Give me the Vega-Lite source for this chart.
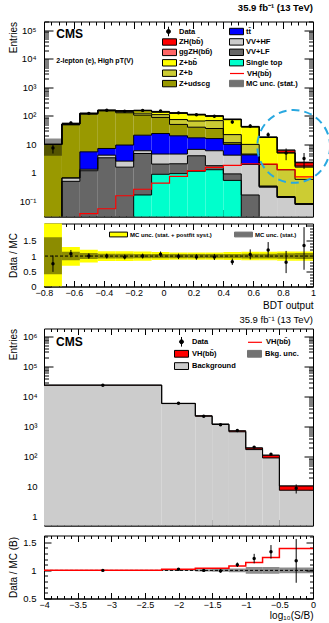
{
"$schema": "https://vega.github.io/schema/vega-lite/v6.json",
"padding": {"left": 7, "top": 2.5, "right": 0, "bottom": 0},
"background": "white",
"spacing": 1,
"config": {
  "font": "Liberation Sans",
  "view": {"stroke": "black", "strokeWidth": 1},
  "axis": {"grid": false, "domainColor": "black", "domainWidth": 1, "tickColor": "black", "tickWidth": 1, "labelColor": "black", "titleColor": "black", "labelFont": "Liberation Sans", "titleFont": "Liberation Sans", "labelFontSize": 9.5, "titleFontSize": 10, "titleFontWeight": "normal", "labelOverlap": false, "labelFlush": false, "labelBound": false},
  "legend": {"labelFont": "Liberation Sans", "labelFontWeight": "bold", "labelFontSize": 7.5, "labelColor": "black", "padding": 0, "rowPadding": -0.6, "labelOffset": 5, "symbolSize": 64, "titlePadding": 0, "offset": 0},
  "title": {"font": "Liberation Sans", "color": "black", "subtitleFont": "Liberation Sans", "subtitleColor": "black", "frame": "group"}
},
"datasets": {
  "stack": [
    {"b":1,"lo":-0.8,"hi":-0.68,"g":"A","c":"ZH(bb\u0304)","bot":10,"top":10},
    {"b":1,"lo":-0.8,"hi":-0.68,"g":"A","c":"ggZH(bb\u0304)","bot":10,"top":10},
    {"b":1,"lo":-0.8,"hi":-0.68,"g":"A","c":"Z+bb\u0304","bot":10,"top":10},
    {"b":1,"lo":-0.8,"hi":-0.68,"g":"A","c":"Z+b","bot":10,"top":10},
    {"b":1,"lo":-0.8,"hi":-0.68,"g":"A","c":"Z+udscg","bot":0.001,"top":10},
    {"b":1,"lo":-0.8,"hi":-0.68,"g":"B","c":"tt\u0304","bot":0.001,"top":0.001},
    {"b":1,"lo":-0.8,"hi":-0.68,"g":"B","c":"VV+HF","bot":0.001,"top":0.001},
    {"b":1,"lo":-0.8,"hi":-0.68,"g":"B","c":"VV+LF","bot":0.001,"top":0.001},
    {"b":1,"lo":-0.8,"hi":-0.68,"g":"B","c":"Single top","bot":0.001,"top":0.001},
    {"b":2,"lo":-0.68,"hi":-0.56,"g":"A","c":"ZH(bb\u0304)","bot":52,"top":52},
    {"b":2,"lo":-0.68,"hi":-0.56,"g":"A","c":"ggZH(bb\u0304)","bot":52,"top":52},
    {"b":2,"lo":-0.68,"hi":-0.56,"g":"A","c":"Z+bb\u0304","bot":51.5,"top":52},
    {"b":2,"lo":-0.68,"hi":-0.56,"g":"A","c":"Z+b","bot":51,"top":51.5},
    {"b":2,"lo":-0.68,"hi":-0.56,"g":"A","c":"Z+udscg","bot":0.67,"top":51},
    {"b":2,"lo":-0.68,"hi":-0.56,"g":"B","c":"tt\u0304","bot":0.67,"top":0.67},
    {"b":2,"lo":-0.68,"hi":-0.56,"g":"B","c":"VV+HF","bot":0.51,"top":0.67},
    {"b":2,"lo":-0.68,"hi":-0.56,"g":"B","c":"VV+LF","bot":0.001,"top":0.51},
    {"b":2,"lo":-0.68,"hi":-0.56,"g":"B","c":"Single top","bot":0.001,"top":0.001},
    {"b":3,"lo":-0.56,"hi":-0.44,"g":"A","c":"ZH(bb\u0304)","bot":121.5,"top":122},
    {"b":3,"lo":-0.56,"hi":-0.44,"g":"A","c":"ggZH(bb\u0304)","bot":121,"top":121.5},
    {"b":3,"lo":-0.56,"hi":-0.44,"g":"A","c":"Z+bb\u0304","bot":119,"top":121},
    {"b":3,"lo":-0.56,"hi":-0.44,"g":"A","c":"Z+b","bot":116,"top":119},
    {"b":3,"lo":-0.56,"hi":-0.44,"g":"A","c":"Z+udscg","bot":5.5,"top":116},
    {"b":3,"lo":-0.56,"hi":-0.44,"g":"B","c":"tt\u0304","bot":1.35,"top":5.5},
    {"b":3,"lo":-0.56,"hi":-0.44,"g":"B","c":"VV+HF","bot":1.2,"top":1.35},
    {"b":3,"lo":-0.56,"hi":-0.44,"g":"B","c":"VV+LF","bot":0.001,"top":1.2},
    {"b":3,"lo":-0.56,"hi":-0.44,"g":"B","c":"Single top","bot":0.001,"top":0.001},
    {"b":4,"lo":-0.44,"hi":-0.32,"g":"A","c":"ZH(bb\u0304)","bot":156.5,"top":157},
    {"b":4,"lo":-0.44,"hi":-0.32,"g":"A","c":"ggZH(bb\u0304)","bot":156,"top":156.5},
    {"b":4,"lo":-0.44,"hi":-0.32,"g":"A","c":"Z+bb\u0304","bot":153,"top":156},
    {"b":4,"lo":-0.44,"hi":-0.32,"g":"A","c":"Z+b","bot":150,"top":153},
    {"b":4,"lo":-0.44,"hi":-0.32,"g":"A","c":"Z+udscg","bot":7.2,"top":150},
    {"b":4,"lo":-0.44,"hi":-0.32,"g":"B","c":"tt\u0304","bot":4.2,"top":7.2},
    {"b":4,"lo":-0.44,"hi":-0.32,"g":"B","c":"VV+HF","bot":3.4,"top":4.2},
    {"b":4,"lo":-0.44,"hi":-0.32,"g":"B","c":"VV+LF","bot":0.001,"top":3.4},
    {"b":4,"lo":-0.44,"hi":-0.32,"g":"B","c":"Single top","bot":0.001,"top":0.001},
    {"b":5,"lo":-0.32,"hi":-0.2,"g":"A","c":"ZH(bb\u0304)","bot":149,"top":150},
    {"b":5,"lo":-0.32,"hi":-0.2,"g":"A","c":"ggZH(bb\u0304)","bot":148,"top":149},
    {"b":5,"lo":-0.32,"hi":-0.2,"g":"A","c":"Z+bb\u0304","bot":138,"top":148},
    {"b":5,"lo":-0.32,"hi":-0.2,"g":"A","c":"Z+b","bot":128,"top":138},
    {"b":5,"lo":-0.32,"hi":-0.2,"g":"A","c":"Z+udscg","bot":9.5,"top":128},
    {"b":5,"lo":-0.32,"hi":-0.2,"g":"B","c":"tt\u0304","bot":2.6,"top":9.5},
    {"b":5,"lo":-0.32,"hi":-0.2,"g":"B","c":"VV+HF","bot":1.6,"top":2.6},
    {"b":5,"lo":-0.32,"hi":-0.2,"g":"B","c":"VV+LF","bot":0.001,"top":1.6},
    {"b":5,"lo":-0.32,"hi":-0.2,"g":"B","c":"Single top","bot":0.001,"top":0.001},
    {"b":6,"lo":-0.2,"hi":-0.08,"g":"A","c":"ZH(bb\u0304)","bot":152,"top":155},
    {"b":6,"lo":-0.2,"hi":-0.08,"g":"A","c":"ggZH(bb\u0304)","bot":150,"top":152},
    {"b":6,"lo":-0.2,"hi":-0.08,"g":"A","c":"Z+bb\u0304","bot":124,"top":150},
    {"b":6,"lo":-0.2,"hi":-0.08,"g":"A","c":"Z+b","bot":106,"top":124},
    {"b":6,"lo":-0.2,"hi":-0.08,"g":"A","c":"Z+udscg","bot":21,"top":106},
    {"b":6,"lo":-0.2,"hi":-0.08,"g":"B","c":"tt\u0304","bot":6,"top":21},
    {"b":6,"lo":-0.2,"hi":-0.08,"g":"B","c":"VV+HF","bot":4.8,"top":6},
    {"b":6,"lo":-0.2,"hi":-0.08,"g":"B","c":"VV+LF","bot":0.17,"top":4.8},
    {"b":6,"lo":-0.2,"hi":-0.08,"g":"B","c":"Single top","bot":0.001,"top":0.17},
    {"b":7,"lo":-0.08,"hi":0.04,"g":"A","c":"ZH(bb\u0304)","bot":137,"top":140},
    {"b":7,"lo":-0.08,"hi":0.04,"g":"A","c":"ggZH(bb\u0304)","bot":135,"top":137},
    {"b":7,"lo":-0.08,"hi":0.04,"g":"A","c":"Z+bb\u0304","bot":110,"top":135},
    {"b":7,"lo":-0.08,"hi":0.04,"g":"A","c":"Z+b","bot":88,"top":110},
    {"b":7,"lo":-0.08,"hi":0.04,"g":"A","c":"Z+udscg","bot":24,"top":88},
    {"b":7,"lo":-0.08,"hi":0.04,"g":"B","c":"tt\u0304","bot":4.6,"top":24},
    {"b":7,"lo":-0.08,"hi":0.04,"g":"B","c":"VV+HF","bot":2.05,"top":4.6},
    {"b":7,"lo":-0.08,"hi":0.04,"g":"B","c":"VV+LF","bot":0.9,"top":2.05},
    {"b":7,"lo":-0.08,"hi":0.04,"g":"B","c":"Single top","bot":0.001,"top":0.9},
    {"b":8,"lo":0.04,"hi":0.16,"g":"A","c":"ZH(bb\u0304)","bot":125,"top":128},
    {"b":8,"lo":0.04,"hi":0.16,"g":"A","c":"ggZH(bb\u0304)","bot":122,"top":125},
    {"b":8,"lo":0.04,"hi":0.16,"g":"A","c":"Z+bb\u0304","bot":74,"top":122},
    {"b":8,"lo":0.04,"hi":0.16,"g":"A","c":"Z+b","bot":50,"top":74},
    {"b":8,"lo":0.04,"hi":0.16,"g":"A","c":"Z+udscg","bot":20,"top":50},
    {"b":8,"lo":0.04,"hi":0.16,"g":"B","c":"tt\u0304","bot":4.6,"top":20},
    {"b":8,"lo":0.04,"hi":0.16,"g":"B","c":"VV+HF","bot":2.1,"top":4.6},
    {"b":8,"lo":0.04,"hi":0.16,"g":"B","c":"VV+LF","bot":0.95,"top":2.1},
    {"b":8,"lo":0.04,"hi":0.16,"g":"B","c":"Single top","bot":0.001,"top":0.95},
    {"b":9,"lo":0.16,"hi":0.28,"g":"A","c":"ZH(bb\u0304)","bot":110,"top":112},
    {"b":9,"lo":0.16,"hi":0.28,"g":"A","c":"ggZH(bb\u0304)","bot":108,"top":110},
    {"b":9,"lo":0.16,"hi":0.28,"g":"A","c":"Z+bb\u0304","bot":66,"top":108},
    {"b":9,"lo":0.16,"hi":0.28,"g":"A","c":"Z+b","bot":40,"top":66},
    {"b":9,"lo":0.16,"hi":0.28,"g":"A","c":"Z+udscg","bot":17,"top":40},
    {"b":9,"lo":0.16,"hi":0.28,"g":"B","c":"tt\u0304","bot":6.7,"top":17},
    {"b":9,"lo":0.16,"hi":0.28,"g":"B","c":"VV+HF","bot":4,"top":6.7},
    {"b":9,"lo":0.16,"hi":0.28,"g":"B","c":"VV+LF","bot":1.15,"top":4},
    {"b":9,"lo":0.16,"hi":0.28,"g":"B","c":"Single top","bot":0.001,"top":1.15},
    {"b":10,"lo":0.28,"hi":0.4,"g":"A","c":"ZH(bb\u0304)","bot":98.5,"top":100},
    {"b":10,"lo":0.28,"hi":0.4,"g":"A","c":"ggZH(bb\u0304)","bot":97,"top":98.5},
    {"b":10,"lo":0.28,"hi":0.4,"g":"A","c":"Z+bb\u0304","bot":68,"top":97},
    {"b":10,"lo":0.28,"hi":0.4,"g":"A","c":"Z+b","bot":36,"top":68},
    {"b":10,"lo":0.28,"hi":0.4,"g":"A","c":"Z+udscg","bot":16,"top":36},
    {"b":10,"lo":0.28,"hi":0.4,"g":"B","c":"tt\u0304","bot":6,"top":16},
    {"b":10,"lo":0.28,"hi":0.4,"g":"B","c":"VV+HF","bot":1.8,"top":6},
    {"b":10,"lo":0.28,"hi":0.4,"g":"B","c":"VV+LF","bot":1.3,"top":1.8},
    {"b":10,"lo":0.28,"hi":0.4,"g":"B","c":"Single top","bot":0.001,"top":1.3},
    {"b":11,"lo":0.4,"hi":0.52,"g":"A","c":"ZH(bb\u0304)","bot":75,"top":75.5},
    {"b":11,"lo":0.4,"hi":0.52,"g":"A","c":"ggZH(bb\u0304)","bot":74,"top":75},
    {"b":11,"lo":0.4,"hi":0.52,"g":"A","c":"Z+bb\u0304","bot":22,"top":74},
    {"b":11,"lo":0.4,"hi":0.52,"g":"A","c":"Z+b","bot":11.5,"top":22},
    {"b":11,"lo":0.4,"hi":0.52,"g":"A","c":"Z+udscg","bot":10,"top":11.5},
    {"b":11,"lo":0.4,"hi":0.52,"g":"B","c":"tt\u0304","bot":4.2,"top":10},
    {"b":11,"lo":0.4,"hi":0.52,"g":"B","c":"VV+HF","bot":0.93,"top":4.2},
    {"b":11,"lo":0.4,"hi":0.52,"g":"B","c":"VV+LF","bot":0.55,"top":0.93},
    {"b":11,"lo":0.4,"hi":0.52,"g":"B","c":"Single top","bot":0.001,"top":0.55},
    {"b":12,"lo":0.52,"hi":0.64,"g":"A","c":"ZH(bb\u0304)","bot":41.5,"top":42},
    {"b":12,"lo":0.52,"hi":0.64,"g":"A","c":"ggZH(bb\u0304)","bot":41,"top":41.5},
    {"b":12,"lo":0.52,"hi":0.64,"g":"A","c":"Z+bb\u0304","bot":10,"top":41},
    {"b":12,"lo":0.52,"hi":0.64,"g":"A","c":"Z+b","bot":4.6,"top":10},
    {"b":12,"lo":0.52,"hi":0.64,"g":"A","c":"Z+udscg","bot":4.3,"top":4.6},
    {"b":12,"lo":0.52,"hi":0.64,"g":"B","c":"tt\u0304","bot":2,"top":4.3},
    {"b":12,"lo":0.52,"hi":0.64,"g":"B","c":"VV+HF","bot":0.17,"top":2},
    {"b":12,"lo":0.52,"hi":0.64,"g":"B","c":"VV+LF","bot":0.001,"top":0.17},
    {"b":12,"lo":0.52,"hi":0.64,"g":"B","c":"Single top","bot":0.001,"top":0.001},
    {"b":13,"lo":0.64,"hi":0.76,"g":"A","c":"ZH(bb\u0304)","bot":17.7,"top":18},
    {"b":13,"lo":0.64,"hi":0.76,"g":"A","c":"ggZH(bb\u0304)","bot":17.5,"top":17.7},
    {"b":13,"lo":0.64,"hi":0.76,"g":"A","c":"Z+bb\u0304","bot":2,"top":17.5},
    {"b":13,"lo":0.64,"hi":0.76,"g":"A","c":"Z+b","bot":0.35,"top":2},
    {"b":13,"lo":0.64,"hi":0.76,"g":"A","c":"Z+udscg","bot":0.33,"top":0.35},
    {"b":13,"lo":0.64,"hi":0.76,"g":"B","c":"tt\u0304","bot":0.32,"top":0.33},
    {"b":13,"lo":0.64,"hi":0.76,"g":"B","c":"VV+HF","bot":0.001,"top":0.32},
    {"b":13,"lo":0.64,"hi":0.76,"g":"B","c":"VV+LF","bot":0.001,"top":0.001},
    {"b":13,"lo":0.64,"hi":0.76,"g":"B","c":"Single top","bot":0.001,"top":0.001},
    {"b":14,"lo":0.76,"hi":0.88,"g":"A","c":"ZH(bb\u0304)","bot":5.1,"top":6.3},
    {"b":14,"lo":0.76,"hi":0.88,"g":"A","c":"ggZH(bb\u0304)","bot":5,"top":5.1},
    {"b":14,"lo":0.76,"hi":0.88,"g":"A","c":"Z+bb\u0304","bot":1.3,"top":5},
    {"b":14,"lo":0.76,"hi":0.88,"g":"A","c":"Z+b","bot":0.15,"top":1.3},
    {"b":14,"lo":0.76,"hi":0.88,"g":"A","c":"Z+udscg","bot":0.14,"top":0.15},
    {"b":14,"lo":0.76,"hi":0.88,"g":"B","c":"tt\u0304","bot":0.14,"top":0.14},
    {"b":14,"lo":0.76,"hi":0.88,"g":"B","c":"VV+HF","bot":0.001,"top":0.14},
    {"b":14,"lo":0.76,"hi":0.88,"g":"B","c":"VV+LF","bot":0.001,"top":0.001},
    {"b":14,"lo":0.76,"hi":0.88,"g":"B","c":"Single top","bot":0.001,"top":0.001},
    {"b":15,"lo":0.88,"hi":1.0,"g":"A","c":"ZH(bb\u0304)","bot":1.75,"top":2.35},
    {"b":15,"lo":0.88,"hi":1.0,"g":"A","c":"ggZH(bb\u0304)","bot":1.6,"top":1.75},
    {"b":15,"lo":0.88,"hi":1.0,"g":"A","c":"Z+bb\u0304","bot":0.6,"top":1.6},
    {"b":15,"lo":0.88,"hi":1.0,"g":"A","c":"Z+b","bot":0.085,"top":0.6},
    {"b":15,"lo":0.88,"hi":1.0,"g":"A","c":"Z+udscg","bot":0.08,"top":0.085},
    {"b":15,"lo":0.88,"hi":1.0,"g":"B","c":"tt\u0304","bot":0.08,"top":0.08},
    {"b":15,"lo":0.88,"hi":1.0,"g":"B","c":"VV+HF","bot":0.001,"top":0.08},
    {"b":15,"lo":0.88,"hi":1.0,"g":"B","c":"VV+LF","bot":0.001,"top":0.001},
    {"b":15,"lo":0.88,"hi":1.0,"g":"B","c":"Single top","bot":0.001,"top":0.001}
  ],
  "unc": [
    {"b":1,"lo":-0.8,"hi":-0.68,"ulo":4,"uhi":16,"ylo":0,"yhi":2.1,"slo":0.4,"shi":1.62,"vh":0.001},
    {"b":2,"lo":-0.68,"hi":-0.56,"ulo":44.7,"uhi":59.3,"ylo":0.68,"yhi":1.3,"slo":0.86,"shi":1.14,"vh":0.001},
    {"b":3,"lo":-0.56,"hi":-0.44,"ulo":110,"uhi":134,"ylo":0.79,"yhi":1.21,"slo":0.9,"shi":1.1,"vh":0.038},
    {"b":4,"lo":-0.44,"hi":-0.32,"ulo":146,"uhi":168,"ylo":0.84,"yhi":1.16,"slo":0.92,"shi":1.08,"vh":0.056},
    {"b":5,"lo":-0.32,"hi":-0.2,"ulo":139.5,"uhi":160.5,"ylo":0.84,"yhi":1.16,"slo":0.92,"shi":1.08,"vh":0.16},
    {"b":6,"lo":-0.2,"hi":-0.08,"ulo":144,"uhi":166,"ylo":0.85,"yhi":1.15,"slo":0.93,"shi":1.07,"vh":0.27},
    {"b":7,"lo":-0.08,"hi":0.04,"ulo":130,"uhi":150,"ylo":0.87,"yhi":1.13,"slo":0.93,"shi":1.07,"vh":0.44},
    {"b":8,"lo":0.04,"hi":0.16,"ulo":119,"uhi":137,"ylo":0.88,"yhi":1.12,"slo":0.93,"shi":1.07,"vh":0.76},
    {"b":9,"lo":0.16,"hi":0.28,"ulo":104,"uhi":120,"ylo":0.88,"yhi":1.12,"slo":0.93,"shi":1.07,"vh":1.2},
    {"b":10,"lo":0.28,"hi":0.4,"ulo":93,"uhi":107,"ylo":0.88,"yhi":1.12,"slo":0.93,"shi":1.07,"vh":1.57},
    {"b":11,"lo":0.4,"hi":0.52,"ulo":69.5,"uhi":81.5,"ylo":0.87,"yhi":1.13,"slo":0.93,"shi":1.07,"vh":1.85},
    {"b":12,"lo":0.52,"hi":0.64,"ulo":38.6,"uhi":45.4,"ylo":0.86,"yhi":1.14,"slo":0.92,"shi":1.08,"vh":2.1},
    {"b":13,"lo":0.64,"hi":0.76,"ulo":16.6,"uhi":19.4,"ylo":0.86,"yhi":1.14,"slo":0.92,"shi":1.08,"vh":2.05},
    {"b":14,"lo":0.76,"hi":0.88,"ulo":5.8,"uhi":6.8,"ylo":0.85,"yhi":1.15,"slo":0.91,"shi":1.09,"vh":1.3},
    {"b":15,"lo":0.88,"hi":1.0,"ulo":2.16,"uhi":2.54,"ylo":0.85,"yhi":1.15,"slo":0.9,"shi":1.1,"vh":0.73}
  ],
  "obs": [
    {"x":-0.74,"n":7.5,"nlo":4.8,"nhi":10.2,"r":0.75,"rlo":0.48,"rhi":1.02},
    {"x":-0.62,"n":56,"nlo":48.5,"nhi":63.5,"r":1.08,"rlo":0.96,"rhi":1.2},
    {"x":-0.5,"n":122,"nlo":111,"nhi":133,"r":1.0,"rlo":0.91,"rhi":1.09},
    {"x":-0.38,"n":157,"nlo":144.5,"nhi":169.5,"r":1.0,"rlo":0.92,"rhi":1.08},
    {"x":-0.26,"n":146,"nlo":134,"nhi":158,"r":0.97,"rlo":0.89,"rhi":1.05},
    {"x":-0.14,"n":155,"nlo":142.5,"nhi":167.5,"r":1.0,"rlo":0.92,"rhi":1.08},
    {"x":-0.02,"n":148,"nlo":136,"nhi":160,"r":1.06,"rlo":0.97,"rhi":1.15},
    {"x":0.1,"n":127,"nlo":116,"nhi":138,"r":0.99,"rlo":0.9,"rhi":1.08},
    {"x":0.22,"n":109,"nlo":98.5,"nhi":119.5,"r":0.97,"rlo":0.88,"rhi":1.06},
    {"x":0.34,"n":97,"nlo":87,"nhi":107,"r":0.97,"rlo":0.87,"rhi":1.07},
    {"x":0.46,"n":61,"nlo":53,"nhi":69,"r":0.81,"rlo":0.71,"rhi":0.92},
    {"x":0.58,"n":44,"nlo":37.4,"nhi":50.6,"r":1.05,"rlo":0.89,"rhi":1.22},
    {"x":0.7,"n":21.6,"nlo":17,"nhi":26.2,"r":1.2,"rlo":0.96,"rhi":1.46},
    {"x":0.82,"n":5,"nlo":2.8,"nhi":7.2,"r":0.8,"rlo":0.44,"rhi":1.17},
    {"x":0.94,"n":3.2,"nlo":1.4,"nhi":5.0,"r":1.35,"rlo":0.55,"rhi":1.95}
  ],
  "sb": [
    {"b":1,"lo":-4,"hi":-2.25,"c":"Background","bot":0.01,"top":23700},
    {"b":1,"lo":-4,"hi":-2.25,"c":"VH(bb\u0304)","bot":23700,"top":23770},
    {"b":2,"lo":-2.25,"hi":-1.75,"c":"Background","bot":0.01,"top":5800},
    {"b":2,"lo":-2.25,"hi":-1.75,"c":"VH(bb\u0304)","bot":5800,"top":5916},
    {"b":3,"lo":-1.75,"hi":-1.5,"c":"Background","bot":0.01,"top":2200},
    {"b":3,"lo":-1.75,"hi":-1.5,"c":"VH(bb\u0304)","bot":2200,"top":2288},
    {"b":4,"lo":-1.5,"hi":-1.25,"c":"Background","bot":0.01,"top":1170},
    {"b":4,"lo":-1.5,"hi":-1.25,"c":"VH(bb\u0304)","bot":1170,"top":1217},
    {"b":5,"lo":-1.25,"hi":-1,"c":"Background","bot":0.01,"top":670},
    {"b":5,"lo":-1.25,"hi":-1,"c":"VH(bb\u0304)","bot":670,"top":724},
    {"b":6,"lo":-1,"hi":-0.75,"c":"Background","bot":0.01,"top":172},
    {"b":6,"lo":-1,"hi":-0.75,"c":"VH(bb\u0304)","bot":172,"top":196},
    {"b":7,"lo":-0.75,"hi":-0.5,"c":"Background","bot":0.01,"top":91},
    {"b":7,"lo":-0.75,"hi":-0.5,"c":"VH(bb\u0304)","bot":91,"top":112},
    {"b":8,"lo":-0.5,"hi":0,"c":"Background","bot":0.01,"top":7.7},
    {"b":8,"lo":-0.5,"hi":0,"c":"VH(bb\u0304)","bot":7.7,"top":10.7}
  ],
  "sbin": [
    {"b":1,"lo":-4,"hi":-2.25,"ulo":23630,"uhi":23910,"sr":1.003,"hlo":0.994,"hhi":1.006},
    {"b":2,"lo":-2.25,"hi":-1.75,"ulo":5869,"uhi":5963,"sr":1.02,"hlo":0.992,"hhi":1.008},
    {"b":3,"lo":-1.75,"hi":-1.5,"ulo":2242,"uhi":2334,"sr":1.04,"hlo":0.98,"hhi":1.02},
    {"b":4,"lo":-1.5,"hi":-1.25,"ulo":1187,"uhi":1247,"sr":1.04,"hlo":0.975,"hhi":1.025},
    {"b":5,"lo":-1.25,"hi":-1,"ulo":699,"uhi":749,"sr":1.08,"hlo":0.965,"hhi":1.035},
    {"b":6,"lo":-1,"hi":-0.75,"ulo":184,"uhi":208,"sr":1.14,"hlo":0.94,"hhi":1.06},
    {"b":7,"lo":-0.75,"hi":-0.5,"ulo":105,"uhi":119,"sr":1.23,"hlo":0.94,"hhi":1.06},
    {"b":8,"lo":-0.5,"hi":0,"ulo":10.2,"uhi":11.2,"sr":1.39,"hlo":0.95,"hhi":1.05}
  ],
  "obs2": [
    {"x":-3.125,"n":23700,"nlo":23546,"nhi":23854,"r":1.0,"rlo":0.9935,"rhi":1.0065},
    {"x":-2.0,"n":5916,"nlo":5839,"nhi":5993,"r":1.02,"rlo":1.007,"rhi":1.033},
    {"x":-1.625,"n":2200,"nlo":2153,"nhi":2247,"r":1.0,"rlo":0.979,"rhi":1.021},
    {"x":-1.375,"n":1158,"nlo":1124,"nhi":1192,"r":0.99,"rlo":0.961,"rhi":1.019},
    {"x":-1.125,"n":737,"nlo":710,"nhi":764,"r":1.1,"rlo":1.06,"rhi":1.14},
    {"x":-0.875,"n":208,"nlo":194,"nhi":222,"r":1.21,"rlo":1.126,"rhi":1.294},
    {"x":-0.625,"n":121,"nlo":110,"nhi":132,"r":1.33,"rlo":1.21,"rhi":1.45},
    {"x":-0.25,"n":9,"nlo":6,"nhi":12,"r":1.17,"rlo":0.78,"rhi":1.56}
  ]
},
"vconcat": [
  {
   "width": 269, "height": 195,
   "title": {"text": "35.9 fb\u207b\u00b9 (13 TeV)", "anchor": "end", "fontSize": 9.5, "fontWeight": "bold", "offset": 4},
   "resolve": {"scale": {"fill": "independent", "stroke": "independent"}, "axis": {"x": "independent", "y": "independent"}},
   "layer": [
    {"data": {"name": "stack"}, "transform": [{"filter": "datum.g == 'A'"}],
     "mark": {"type": "rect", "clip": true},
     "encoding": {
      "x": {"field": "lo", "type": "quantitative", "scale": {"domain": [-0.8, 1], "nice": false, "zero": false},
            "axis": {"values": [-0.8,-0.75,-0.7,-0.65,-0.6,-0.55,-0.5,-0.45,-0.4,-0.35,-0.3,-0.25,-0.2,-0.15,-0.1,-0.05,0,0.05,0.1,0.15,0.2,0.25,0.3,0.35,0.4,0.45,0.5,0.55,0.6,0.65,0.7,0.75,0.8,0.85,0.9,0.95,1],
                     "labels": false, "title": null,
                     "tickSize": {"condition": {"test": "abs(datum.value*5-round(datum.value*5))<0.001", "value": -7}, "value": -3.5}}},
      "x2": {"field": "hi"},
      "y": {"field": "top", "type": "quantitative", "scale": {"type": "log", "domain": [0.03, 200000], "nice": false},
            "axis": {"values": [0.04,0.05,0.06,0.07,0.08,0.09,0.1,0.2,0.3,0.4,0.5,0.6,0.7,0.8,0.9,1,2,3,4,5,6,7,8,9,10,20,30,40,50,60,70,80,90,100,200,300,400,500,600,700,800,900,1000,2000,3000,4000,5000,6000,7000,8000,9000,10000,20000,30000,40000,50000,60000,70000,80000,90000,100000,200000],
                     "labelExpr": "datum.value == 0.1 ? '10\u207b\u00b9' : datum.value == 1 ? '1' : datum.value == 10 ? '10' : datum.value == 100 ? '10\u00b2' : datum.value == 1000 ? '10\u00b3' : datum.value == 10000 ? '10\u2074' : datum.value == 100000 ? '10\u2075' : ''",
                     "tickSize": {"condition": {"test": "indexof([0.1,1,10,100,1000,10000,100000], datum.value) >= 0", "value": -9}, "value": -4.5},
                     "labelPadding": 17, "title": "Entries", "titleAnchor": "end", "titleX": -26, "titlePadding": 7}},
      "y2": {"field": "bot"},
      "fill": {"field": "c", "type": "nominal",
               "scale": {"domain": ["ZH(bb\u0304)", "ggZH(bb\u0304)", "Z+bb\u0304", "Z+b", "Z+udscg"], "range": ["#ff0000", "#ff6666", "#ffff00", "#cccc33", "#999900"]},
               "legend": {"title": null, "orient": "none", "legendX": 121, "legendY": 16, "symbolType": "M-1.75,-0.8H1.75V0.8H-1.75Z", "symbolSize": 64, "symbolStrokeColor": "black", "symbolStrokeWidth": 1}}
     }},
    {"data": {"name": "stack"}, "transform": [{"filter": "datum.g == 'B'"}],
     "mark": {"type": "rect", "clip": true},
     "encoding": {
      "x": {"field": "lo", "type": "quantitative", "axis": null},
      "x2": {"field": "hi"},
      "y": {"field": "top", "type": "quantitative", "axis": null},
      "y2": {"field": "bot"},
      "fill": {"field": "c", "type": "nominal",
               "scale": {"domain": ["tt\u0304", "VV+HF", "VV+LF", "Single top"], "range": ["#0000ff", "#cccccc", "#666666", "#00ffcc"]},
               "legend": {"title": null, "orient": "none", "legendX": 188, "legendY": 5.5, "symbolType": "M-1.75,-0.8H1.75V0.8H-1.75Z", "symbolSize": 64, "symbolStrokeColor": "black", "symbolStrokeWidth": 1}}
     }},
    {"data": {"name": "stack"}, "transform": [{"fold": ["lo", "hi"], "as": ["k", "e"]}],
     "mark": {"type": "line", "clip": true, "color": "black", "strokeWidth": 1},
     "encoding": {
      "x": {"field": "e", "type": "quantitative", "axis": null},
      "y": {"field": "top", "type": "quantitative", "axis": null},
      "detail": {"field": "c", "type": "nominal"},
      "order": [{"field": "b", "type": "quantitative"}, {"field": "k", "type": "nominal", "sort": "descending"}]
     }},
    {"data": {"name": "unc"}, "mark": {"type": "rect", "clip": true, "opacity": 0.45},
     "encoding": {
      "x": {"field": "lo", "type": "quantitative", "axis": null},
      "x2": {"field": "hi"},
      "y": {"field": "ulo", "type": "quantitative", "axis": null},
      "y2": {"field": "uhi"},
      "fill": {"datum": "MC unc. (stat.)", "scale": {"range": ["#000000"]},
               "legend": {"title": null, "orient": "none", "legendX": 188, "legendY": 57.5, "symbolType": "M-1.75,-0.8H1.75V0.8H-1.75Z", "symbolSize": 64, "symbolStrokeColor": "black", "symbolStrokeWidth": 1, "symbolOpacity": 0.55}}
     }},
    {"data": {"name": "unc"}, "transform": [{"fold": ["lo", "hi"], "as": ["k", "e"]}],
     "mark": {"type": "line", "clip": true, "strokeWidth": 1.2},
     "encoding": {
      "x": {"field": "e", "type": "quantitative", "axis": null},
      "y": {"field": "vh", "type": "quantitative", "axis": null},
      "order": [{"field": "b", "type": "quantitative"}, {"field": "k", "type": "nominal", "sort": "descending"}],
      "stroke": {"datum": "VH(bb\u0304)", "scale": {"range": ["#ff0000"]},
                 "legend": {"title": null, "orient": "none", "legendX": 188, "legendY": 47, "symbolType": "M-1.75,0H1.75", "symbolSize": 64, "symbolStrokeColor": "#ff0000", "symbolStrokeWidth": 1.2}}
     }},
    {"data": {"name": "obs"}, "mark": {"type": "rule", "color": "black", "strokeWidth": 1},
     "encoding": {"x": {"field": "x", "type": "quantitative", "axis": null}, "y": {"field": "nlo", "type": "quantitative", "axis": null}, "y2": {"field": "nhi"}}},
    {"data": {"name": "obs"}, "mark": {"type": "point", "filled": true, "size": 12, "opacity": 1},
     "encoding": {"x": {"field": "x", "type": "quantitative", "axis": null}, "y": {"field": "n", "type": "quantitative", "axis": null},
      "fill": {"datum": "Data", "scale": {"range": ["#000000"]},
               "legend": {"title": null, "orient": "none", "legendX": 120, "legendY": 5.5, "labelOffset": 6, "symbolType": "M0,-1.2V1.2M-0.5,0A0.5,0.5 0 1,1 0.5,0A0.5,0.5 0 1,1 -0.5,0Z", "symbolSize": 64, "symbolStrokeColor": "black", "symbolStrokeWidth": 1}}}},
    {"data": {"values": [{}]}, "mark": {"type": "text", "text": "CMS", "fontSize": 12, "fontWeight": "bold", "align": "left", "baseline": "middle", "color": "black"},
     "encoding": {"x": {"datum": -0.718, "axis": null}, "y": {"datum": 74000, "axis": null}}},
    {"data": {"values": [{}]}, "mark": {"type": "text", "text": "2-lepton (e), High pT(V)", "fontSize": 7, "fontWeight": "bold", "align": "left", "baseline": "middle", "color": "black"},
     "encoding": {"x": {"datum": -0.718, "axis": null}, "y": {"datum": 8400, "axis": null}}},
    {"data": {"values": [{}]}, "mark": {"type": "point", "shape": "circle", "filled": false, "size": 5300, "stroke": "#29a8e0", "strokeWidth": 2, "strokeDash": [8, 5], "opacity": 1},
     "encoding": {"x": {"datum": 0.871, "axis": null}, "y": {"datum": 8.5, "axis": null}}},
    {"data": {"values": [{}]}, "mark": {"type": "point", "opacity": 0},
     "encoding": {
      "x": {"datum": 0, "type": "quantitative", "axis": {"orient": "top", "labels": false, "title": null, "domain": false,
            "values": [-0.8,-0.75,-0.7,-0.65,-0.6,-0.55,-0.5,-0.45,-0.4,-0.35,-0.3,-0.25,-0.2,-0.15,-0.1,-0.05,0,0.05,0.1,0.15,0.2,0.25,0.3,0.35,0.4,0.45,0.5,0.55,0.6,0.65,0.7,0.75,0.8,0.85,0.9,0.95,1],
            "tickSize": {"condition": {"test": "abs(datum.value*5-round(datum.value*5))<0.001", "value": -7}, "value": -3.5}}},
      "y": {"datum": 1, "type": "quantitative", "axis": {"orient": "right", "labels": false, "title": null, "domain": false,
            "values": [0.04,0.05,0.06,0.07,0.08,0.09,0.1,0.2,0.3,0.4,0.5,0.6,0.7,0.8,0.9,1,2,3,4,5,6,7,8,9,10,20,30,40,50,60,70,80,90,100,200,300,400,500,600,700,800,900,1000,2000,3000,4000,5000,6000,7000,8000,9000,10000,20000,30000,40000,50000,60000,70000,80000,90000,100000,200000],
            "tickSize": {"condition": {"test": "indexof([0.1,1,10,100,1000,10000,100000], datum.value) >= 0", "value": -9}, "value": -4.5}}}
     }}
   ]
  },
  {
   "width": 269, "height": 63,
   "resolve": {"scale": {"fill": "independent"}, "axis": {"x": "independent", "y": "independent"}},
   "layer": [
    {"data": {"name": "unc"}, "mark": {"type": "rect", "clip": true},
     "encoding": {
      "x": {"field": "lo", "type": "quantitative", "scale": {"domain": [-0.8, 1], "nice": false, "zero": false},
            "axis": {"values": [-0.8,-0.75,-0.7,-0.65,-0.6,-0.55,-0.5,-0.45,-0.4,-0.35,-0.3,-0.25,-0.2,-0.15,-0.1,-0.05,0,0.05,0.1,0.15,0.2,0.25,0.3,0.35,0.4,0.45,0.5,0.55,0.6,0.65,0.7,0.75,0.8,0.85,0.9,0.95,1],
                     "labelExpr": "abs(datum.value*5-round(datum.value*5))<0.001 ? format(datum.value, '~g') : ''",
                     "labelFontSize": 9, "labelPadding": 8,
                     "tickSize": {"condition": {"test": "abs(datum.value*5-round(datum.value*5))<0.001", "value": -6}, "value": -3},
                     "title": "BDT output", "titleAnchor": "end", "titlePadding": 0}},
      "x2": {"field": "hi"},
      "y": {"field": "ylo", "type": "quantitative", "scale": {"domain": [0, 2.07], "nice": false, "zero": false},
            "axis": {"values": [0,0.1,0.2,0.3,0.4,0.5,0.6,0.7,0.8,0.9,1,1.1,1.2,1.3,1.4,1.5,1.6,1.7,1.8,1.9,2],
                     "labelExpr": "indexof([0,0.5,1,1.5], datum.value) >= 0 ? format(datum.value, '~g') : ''",
                     "tickSize": {"condition": {"test": "indexof([0,0.5,1,1.5,2], datum.value) >= 0", "value": -7}, "value": -3.5},
                     "labelPadding": 15, "title": "Data / MC", "titleX": -26, "titlePadding": 5}},
      "y2": {"field": "yhi"},
      "fill": {"datum": "MC unc. (stat. + postfit syst.)", "scale": {"range": ["#ffff00"]},
               "legend": {"title": null, "orient": "none", "legendX": 70, "legendY": 6.5, "labelFontSize": 6, "labelOffset": 7, "symbolType": "M-2.25,-0.6H2.25V0.6H-2.25Z", "symbolSize": 64, "symbolStrokeColor": "black", "symbolStrokeWidth": 1}}
     }},
    {"data": {"name": "unc"}, "mark": {"type": "rect", "clip": true, "opacity": 0.45},
     "encoding": {
      "x": {"field": "lo", "type": "quantitative", "axis": null},
      "x2": {"field": "hi"},
      "y": {"field": "slo", "type": "quantitative", "axis": null},
      "y2": {"field": "shi"},
      "fill": {"datum": "MC unc. (stat.)", "scale": {"range": ["#000000"]},
               "legend": {"title": null, "orient": "none", "legendX": 195, "legendY": 6.5, "labelFontSize": 6, "labelOffset": 7, "symbolType": "M-2.25,-0.6H2.25V0.6H-2.25Z", "symbolSize": 64, "symbolStrokeColor": "black", "symbolStrokeWidth": 1, "symbolOpacity": 0.55}}
     }},
    {"data": {"values": [{}]}, "mark": {"type": "rule", "strokeDash": [3, 2], "color": "black", "strokeWidth": 1}, "encoding": {"y": {"datum": 1, "axis": null}}},
    {"data": {"name": "obs"}, "mark": {"type": "rule", "color": "black", "strokeWidth": 1},
     "encoding": {"x": {"field": "x", "type": "quantitative", "axis": null}, "y": {"field": "rlo", "type": "quantitative", "axis": null}, "y2": {"field": "rhi"}}},
    {"data": {"name": "obs"}, "mark": {"type": "point", "filled": true, "size": 12, "color": "black", "opacity": 1},
     "encoding": {"x": {"field": "x", "type": "quantitative", "axis": null}, "y": {"field": "r", "type": "quantitative", "axis": null}}},
    {"data": {"values": [{}]}, "mark": {"type": "point", "opacity": 0},
     "encoding": {
      "x": {"datum": 0, "type": "quantitative", "axis": {"orient": "top", "labels": false, "title": null, "domain": false,
            "values": [-0.8,-0.75,-0.7,-0.65,-0.6,-0.55,-0.5,-0.45,-0.4,-0.35,-0.3,-0.25,-0.2,-0.15,-0.1,-0.05,0,0.05,0.1,0.15,0.2,0.25,0.3,0.35,0.4,0.45,0.5,0.55,0.6,0.65,0.7,0.75,0.8,0.85,0.9,0.95,1],
            "tickSize": {"condition": {"test": "abs(datum.value*5-round(datum.value*5))<0.001", "value": -6}, "value": -3}}},
      "y": {"datum": 1, "type": "quantitative", "axis": {"orient": "right", "labels": false, "title": null, "domain": false,
            "values": [0,0.1,0.2,0.3,0.4,0.5,0.6,0.7,0.8,0.9,1,1.1,1.2,1.3,1.4,1.5,1.6,1.7,1.8,1.9,2],
            "tickSize": {"condition": {"test": "indexof([0,0.5,1,1.5,2], datum.value) >= 0", "value": -7}, "value": -3.5}}}
     }}
   ]
  },
  {
   "width": 269, "height": 197,
   "title": {"text": "\u00a0", "subtitle": "35.9 fb\u207b\u00b9 (13 TeV)", "anchor": "end", "fontSize": 1, "subtitleFontSize": 9.5, "subtitleFontWeight": "normal", "subtitlePadding": 0, "offset": 4},
   "resolve": {"scale": {"fill": "independent", "stroke": "independent"}, "axis": {"x": "independent", "y": "independent"}},
   "layer": [
    {"data": {"name": "sb"}, "mark": {"type": "rect", "clip": true},
     "encoding": {
      "x": {"field": "lo", "type": "quantitative", "scale": {"domain": [-4, 0], "nice": false, "zero": false},
            "axis": {"values": [-4,-3.9,-3.8,-3.7,-3.6,-3.5,-3.4,-3.3,-3.2,-3.1,-3,-2.9,-2.8,-2.7,-2.6,-2.5,-2.4,-2.3,-2.2,-2.1,-2,-1.9,-1.8,-1.7,-1.6,-1.5,-1.4,-1.3,-1.2,-1.1,-1,-0.9,-0.8,-0.7,-0.6,-0.5,-0.4,-0.3,-0.2,-0.1,0],
                     "labels": false, "title": null,
                     "tickSize": {"condition": {"test": "abs(datum.value*2-round(datum.value*2))<0.001", "value": -6}, "value": -3}}},
      "x2": {"field": "hi"},
      "y": {"field": "top", "type": "quantitative", "scale": {"type": "log", "domain": [0.52, 1800000], "nice": false},
            "axis": {"values": [0.6,0.7,0.8,0.9,1,2,3,4,5,6,7,8,9,10,20,30,40,50,60,70,80,90,100,200,300,400,500,600,700,800,900,1000,2000,3000,4000,5000,6000,7000,8000,9000,10000,20000,30000,40000,50000,60000,70000,80000,90000,100000,200000,300000,400000,500000,600000,700000,800000,900000,1000000],
                     "labelExpr": "datum.value == 1 ? '1' : datum.value == 10 ? '10' : datum.value == 100 ? '10\u00b2' : datum.value == 1000 ? '10\u00b3' : datum.value == 10000 ? '10\u2074' : datum.value == 100000 ? '10\u2075' : datum.value == 1000000 ? '10\u2076' : ''",
                     "tickSize": {"condition": {"test": "indexof([1,10,100,1000,10000,100000,1000000], datum.value) >= 0", "value": -9}, "value": -4.5},
                     "labelPadding": 16, "title": "Entries", "titleAnchor": "end", "titleX": -26, "titlePadding": 7}},
      "y2": {"field": "bot"},
      "fill": {"field": "c", "type": "nominal",
               "scale": {"domain": ["VH(bb\u0304)", "Background"], "range": ["#ff0000", "#cccccc"]},
               "legend": {"title": null, "orient": "none", "legendX": 133, "legendY": 20.8, "rowPadding": 1.3, "labelOffset": 6, "symbolType": "M-1.75,-0.85H1.75V0.85H-1.75Z", "symbolSize": 64, "symbolStrokeColor": "black", "symbolStrokeWidth": 1}}
     }},
    {"data": {"name": "sb"}, "transform": [{"fold": ["lo", "hi"], "as": ["k", "e"]}],
     "mark": {"type": "line", "clip": true, "color": "black", "strokeWidth": 1},
     "encoding": {
      "x": {"field": "e", "type": "quantitative", "axis": null},
      "y": {"field": "top", "type": "quantitative", "axis": null},
      "detail": {"field": "c", "type": "nominal"},
      "order": [{"field": "b", "type": "quantitative"}, {"field": "k", "type": "nominal", "sort": "descending"}]
     }},
    {"data": {"name": "sbin"}, "mark": {"type": "rect", "clip": true, "opacity": 0.45},
     "encoding": {
      "x": {"field": "lo", "type": "quantitative", "axis": null},
      "x2": {"field": "hi"},
      "y": {"field": "ulo", "type": "quantitative", "axis": null},
      "y2": {"field": "uhi"},
      "fill": {"datum": "Bkg. unc.", "scale": {"range": ["#000000"]},
               "legend": {"title": null, "orient": "none", "legendX": 206, "legendY": 20.8, "labelOffset": 6, "symbolType": "M-1.75,-0.85H1.75V0.85H-1.75Z", "symbolSize": 64, "symbolStrokeColor": "black", "symbolStrokeWidth": 1, "symbolOpacity": 0.55}}
     }},
    {"data": {"values": []}, "mark": {"type": "rule", "strokeWidth": 1.2},
     "encoding": {"y": {"datum": 1, "axis": null},
      "stroke": {"datum": "VH(bb\u0304)", "scale": {"range": ["#ff0000"]},
                 "legend": {"title": null, "orient": "none", "legendX": 206, "legendY": 8.8, "labelOffset": 6, "symbolType": "M-1.75,0H1.75", "symbolSize": 64, "symbolStrokeColor": "#ff0000", "symbolStrokeWidth": 1.2}}}},
    {"data": {"name": "obs2"}, "mark": {"type": "rule", "color": "black", "strokeWidth": 1},
     "encoding": {"x": {"field": "x", "type": "quantitative", "axis": null}, "y": {"field": "nlo", "type": "quantitative", "axis": null}, "y2": {"field": "nhi"}}},
    {"data": {"name": "obs2"}, "mark": {"type": "point", "filled": true, "size": 12, "opacity": 1},
     "encoding": {"x": {"field": "x", "type": "quantitative", "axis": null}, "y": {"field": "n", "type": "quantitative", "axis": null},
      "fill": {"datum": "Data", "scale": {"range": ["#000000"]},
               "legend": {"title": null, "orient": "none", "legendX": 133, "legendY": 8.8, "labelOffset": 6, "symbolType": "M0,-1.2V1.2M-0.5,0A0.5,0.5 0 1,1 0.5,0A0.5,0.5 0 1,1 -0.5,0Z", "symbolSize": 64, "symbolStrokeColor": "black", "symbolStrokeWidth": 1}}}},
    {"data": {"values": [{}]}, "mark": {"type": "text", "text": "CMS", "fontSize": 12, "fontWeight": "bold", "align": "left", "baseline": "middle", "color": "black"},
     "encoding": {"x": {"datum": -3.82, "axis": null}, "y": {"datum": 650000, "axis": null}}},
    {"data": {"values": [{}]}, "mark": {"type": "point", "opacity": 0},
     "encoding": {
      "x": {"datum": -1, "type": "quantitative", "axis": {"orient": "top", "labels": false, "title": null, "domain": false,
            "values": [-4,-3.9,-3.8,-3.7,-3.6,-3.5,-3.4,-3.3,-3.2,-3.1,-3,-2.9,-2.8,-2.7,-2.6,-2.5,-2.4,-2.3,-2.2,-2.1,-2,-1.9,-1.8,-1.7,-1.6,-1.5,-1.4,-1.3,-1.2,-1.1,-1,-0.9,-0.8,-0.7,-0.6,-0.5,-0.4,-0.3,-0.2,-0.1,0],
            "tickSize": {"condition": {"test": "abs(datum.value*2-round(datum.value*2))<0.001", "value": -6}, "value": -3}}},
      "y": {"datum": 10, "type": "quantitative", "axis": {"orient": "right", "labels": false, "title": null, "domain": false,
            "values": [0.6,0.7,0.8,0.9,1,2,3,4,5,6,7,8,9,10,20,30,40,50,60,70,80,90,100,200,300,400,500,600,700,800,900,1000,2000,3000,4000,5000,6000,7000,8000,9000,10000,20000,30000,40000,50000,60000,70000,80000,90000,100000,200000,300000,400000,500000,600000,700000,800000,900000,1000000],
            "tickSize": {"condition": {"test": "indexof([1,10,100,1000,10000,100000,1000000], datum.value) >= 0", "value": -9}, "value": -4.5}}}
     }}
   ]
  },
  {
   "width": 269, "height": 63,
   "resolve": {"axis": {"x": "independent", "y": "independent"}},
   "layer": [
    {"data": {"name": "sbin"}, "mark": {"type": "rect", "clip": true, "fill": "#000000", "opacity": 0.45},
     "encoding": {
      "x": {"field": "lo", "type": "quantitative", "scale": {"domain": [-4, 0], "nice": false, "zero": false},
            "axis": {"values": [-4,-3.9,-3.8,-3.7,-3.6,-3.5,-3.4,-3.3,-3.2,-3.1,-3,-2.9,-2.8,-2.7,-2.6,-2.5,-2.4,-2.3,-2.2,-2.1,-2,-1.9,-1.8,-1.7,-1.6,-1.5,-1.4,-1.3,-1.2,-1.1,-1,-0.9,-0.8,-0.7,-0.6,-0.5,-0.4,-0.3,-0.2,-0.1,0],
                     "labelExpr": "abs(datum.value*2-round(datum.value*2))<0.001 ? format(datum.value, '~g') : ''",
                     "labelFontSize": 9, "labelPadding": 8,
                     "tickSize": {"condition": {"test": "abs(datum.value*2-round(datum.value*2))<0.001", "value": -6}, "value": -3},
                     "title": "log\u2081\u2080(S/B)", "titleAnchor": "end", "titlePadding": -2}},
      "x2": {"field": "hi"},
      "y": {"field": "hlo", "type": "quantitative", "scale": {"domain": [0.5, 1.62], "nice": false, "zero": false},
            "axis": {"values": [0.5,0.6,0.7,0.8,0.9,1,1.1,1.2,1.3,1.4,1.5,1.6],
                     "labelExpr": "indexof([0.5,1,1.5], datum.value) >= 0 ? format(datum.value, '~g') : ''",
                     "tickSize": {"condition": {"test": "indexof([0.5,1,1.5], datum.value) >= 0", "value": -7}, "value": -3.5},
                     "labelPadding": 15, "title": "Data / MC (B)", "titleX": -26, "titlePadding": 5}},
      "y2": {"field": "hhi"}
     }},
    {"data": {"values": [{}]}, "mark": {"type": "rule", "strokeDash": [3, 2], "color": "black", "strokeWidth": 1}, "encoding": {"y": {"datum": 1, "axis": null}}},
    {"data": {"name": "sbin"}, "transform": [{"fold": ["lo", "hi"], "as": ["k", "e"]}],
     "mark": {"type": "line", "clip": true, "color": "#ff0000", "strokeWidth": 1.5},
     "encoding": {
      "x": {"field": "e", "type": "quantitative", "axis": null},
      "y": {"field": "sr", "type": "quantitative", "axis": null},
      "order": [{"field": "b", "type": "quantitative"}, {"field": "k", "type": "nominal", "sort": "descending"}]
     }},
    {"data": {"name": "obs2"}, "mark": {"type": "rule", "color": "black", "strokeWidth": 1},
     "encoding": {"x": {"field": "x", "type": "quantitative", "axis": null}, "y": {"field": "rlo", "type": "quantitative", "axis": null}, "y2": {"field": "rhi"}}},
    {"data": {"name": "obs2"}, "mark": {"type": "point", "filled": true, "size": 12, "color": "black", "opacity": 1},
     "encoding": {"x": {"field": "x", "type": "quantitative", "axis": null}, "y": {"field": "r", "type": "quantitative", "axis": null}}},
    {"data": {"values": [{}]}, "mark": {"type": "point", "opacity": 0},
     "encoding": {
      "x": {"datum": -1, "type": "quantitative", "axis": {"orient": "top", "labels": false, "title": null, "domain": false,
            "values": [-4,-3.9,-3.8,-3.7,-3.6,-3.5,-3.4,-3.3,-3.2,-3.1,-3,-2.9,-2.8,-2.7,-2.6,-2.5,-2.4,-2.3,-2.2,-2.1,-2,-1.9,-1.8,-1.7,-1.6,-1.5,-1.4,-1.3,-1.2,-1.1,-1,-0.9,-0.8,-0.7,-0.6,-0.5,-0.4,-0.3,-0.2,-0.1,0],
            "tickSize": {"condition": {"test": "abs(datum.value*2-round(datum.value*2))<0.001", "value": -6}, "value": -3}}},
      "y": {"datum": 1, "type": "quantitative", "axis": {"orient": "right", "labels": false, "title": null, "domain": false,
            "values": [0.5,0.6,0.7,0.8,0.9,1,1.1,1.2,1.3,1.4,1.5,1.6],
            "tickSize": {"condition": {"test": "indexof([0.5,1,1.5], datum.value) >= 0", "value": -7}, "value": -3.5}}}
     }}
   ]
  }
]
}
